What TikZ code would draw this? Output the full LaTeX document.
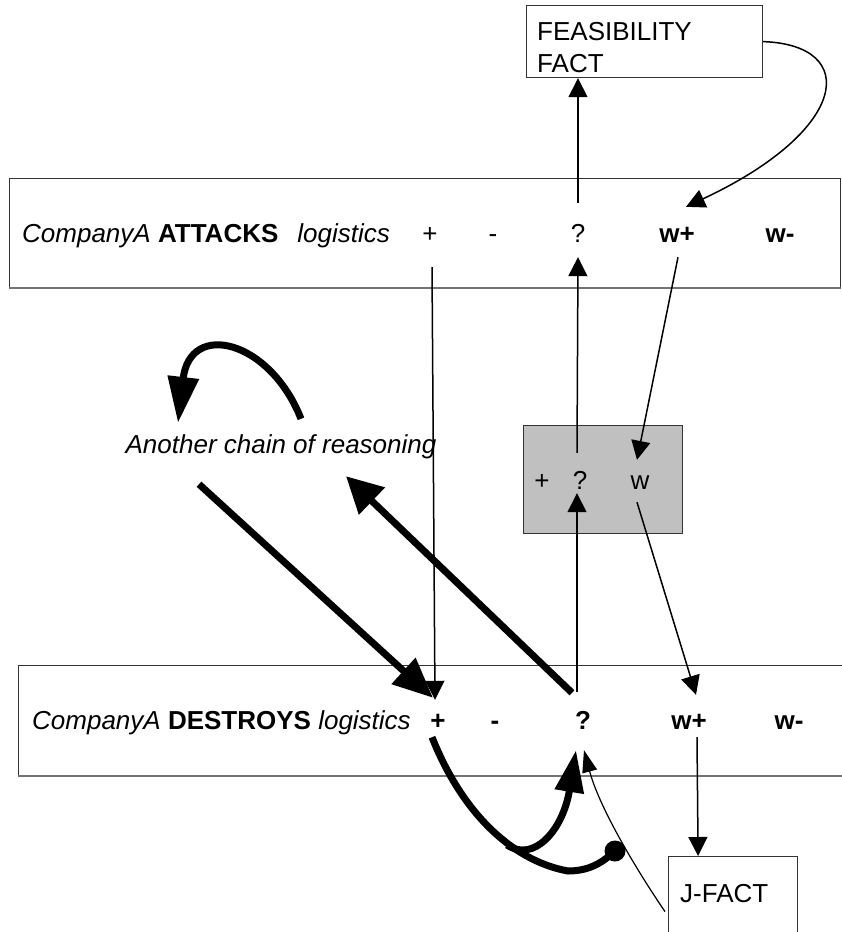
\documentclass[tikz,border=0pt]{standalone}
\usepackage{fontspec}
\setmainfont{Liberation Sans}
\usetikzlibrary{arrows.meta}
\definecolor{silver}{RGB}{192,192,192}
\begin{document}
\begin{tikzpicture}[x=1pt,y=-1pt,
  lbl/.style={font=\fontsize{26pt}{31pt}\selectfont, inner sep=0pt, text height=19pt, text depth=5pt, anchor=base},
  box/.style={draw=black!80, line width=1.2pt, anchor=north west, inner sep=0pt},
  shadowline/.style={draw=black!55, line width=2pt},
  thinarr/.style={line width=1.5pt, -{Triangle[length=19pt,width=19pt]}},
  jarr/.style={line width=1.2pt, -{Triangle[length=22pt,width=15pt]}},
  thickarr/.style={line width=7pt},
  ballstyle/.style={circle, fill=black, inner sep=0pt, minimum size=21pt}
]
\useasboundingbox (0,0) rectangle (841,932);

% boxes
\node[box, minimum width=236pt, minimum height=72pt] (feas) at (526,5) {};
\node[box, minimum width=831pt, minimum height=109pt] (attbox) at (9,178) {};
\node[box, minimum width=860pt, minimum height=110pt] (desbox) at (18,665) {};
\node[box, fill=silver, minimum width=159pt, minimum height=108pt] (gray) at (523,425) {};
\node[box, minimum width=129pt, minimum height=110pt] (jfact) at (668,856) {};
\draw[shadowline] (attbox.south west) -- (attbox.south east);
\draw[shadowline] (desbox.south west) -- (desbox.south east);

% texts
\node[lbl, anchor=base west] (feast1) at (537,40) {FEASIBILITY};
\node[lbl, anchor=base west] (feast2) at (537,72) {FACT};
\node[lbl, anchor=base west] (jtext) at (680,902) {J-FACT};

\node[lbl, anchor=base west] (att_text) at (22,242) {{\itshape CompanyA} {\bfseries ATTACKS}\hspace{19pt}{\itshape logistics}};
\node[lbl] (att_plus) at (430,242) {+};
\node[lbl] (att_minus) at (493,242) {-};
\node[lbl] (att_q) at (578,242) {?};
\node[lbl, font=\fontsize{26pt}{31pt}\selectfont\bfseries] (att_wp) at (677,242) {w+};
\node[lbl, font=\fontsize{26pt}{31pt}\selectfont\bfseries] (att_wm) at (780,242) {w-};

\node[lbl, anchor=base west] (des_text) at (32,729) {{\itshape CompanyA} {\bfseries DESTROYS} {\itshape logistics}};
\node[lbl, font=\fontsize{26pt}{31pt}\selectfont\bfseries] (des_plus) at (438,729) {+};
\node[lbl, font=\fontsize{26pt}{31pt}\selectfont\bfseries] (des_minus) at (495,729) {-};
\node[lbl, font=\fontsize{26pt}{31pt}\selectfont\bfseries] (des_q) at (583,729) {?};
\node[lbl, font=\fontsize{26pt}{31pt}\selectfont\bfseries] (des_wp) at (689,729) {w+};
\node[lbl, font=\fontsize{26pt}{31pt}\selectfont\bfseries] (des_wm) at (789,729) {w-};

\node[lbl] (g_plus) at (542,489) {+};
\node[lbl] (g_q) at (580,489) {?};
\node[lbl] (g_w) at (640,489) {w};

\node[lbl, font=\fontsize{26pt}{31pt}\selectfont\itshape] (chain) at (281,453) {Another chain of reasoning};

\node[ballstyle] (ball) at (615,851) {};
\coordinate (branch) at (507,845);

% thin connectors
\draw[thinarr] ([yshift=20pt]att_q.north) -- (att_q |- feas.south);
\draw[thinarr] (feas.east) .. controls (860,45) and (850,130) .. ([xshift=9pt,yshift=16pt]att_wp.north);
\draw[thinarr] ([xshift=2pt,yshift=-20pt]att_plus.south) -- ([xshift=-3pt,yshift=10pt]des_plus.north);
\draw[thinarr] ([xshift=-3pt,yshift=17pt]g_q.north) -- ([yshift=-10pt]att_q.south);
\draw[thinarr] ([xshift=1pt,yshift=-10pt]att_wp.south) -- ([xshift=-3pt,yshift=10pt]g_w.north);
\draw[thinarr] ([xshift=-3pt,yshift=-8pt]g_w.south) -- ([xshift=7pt,yshift=15pt]des_wp.north);
\draw[thinarr] ([xshift=-6pt,yshift=18pt]des_q.north) -- ([xshift=-3pt,yshift=1pt]g_q.south);
\draw[thinarr] ([xshift=8pt,yshift=-3pt]des_wp.south) -- ([xshift=-35pt]jfact.north);
\draw[jarr] ([xshift=-3pt]jfact.west) .. controls (640,875) and (600,810) .. ([xshift=1pt,yshift=-16pt]des_q.south);

% thick connectors
\draw[thickarr, -{Triangle[length=46pt,width=30pt]}] ([xshift=20pt,yshift=15pt]chain.north) .. controls (270,340) and (190,320) .. ([xshift=-103pt,yshift=11pt]chain.north);
\draw[thickarr, -{Triangle[length=40pt,width=34pt]}] ([xshift=-82pt,yshift=-26pt]chain.south) -- ([xshift=-5pt,yshift=12pt]des_plus.north);
\draw[thickarr, -{Triangle[length=36pt,width=36pt]}] ([xshift=-11pt,yshift=17pt]des_q.north) -- ([xshift=65pt,yshift=-18pt]chain.south);
\draw[thickarr] ([xshift=-6pt,yshift=-3pt]des_plus.south) .. controls (465,820) and (518,862) .. (568,871) .. controls (590,871) and (603,862) .. (ball.center);
\draw[thickarr, -{Triangle[length=42pt,width=28pt]}] (branch) .. controls (534,863) and (563,830) .. ([xshift=-7pt,yshift=-16pt]des_q.south);
\end{tikzpicture}
\end{document}
